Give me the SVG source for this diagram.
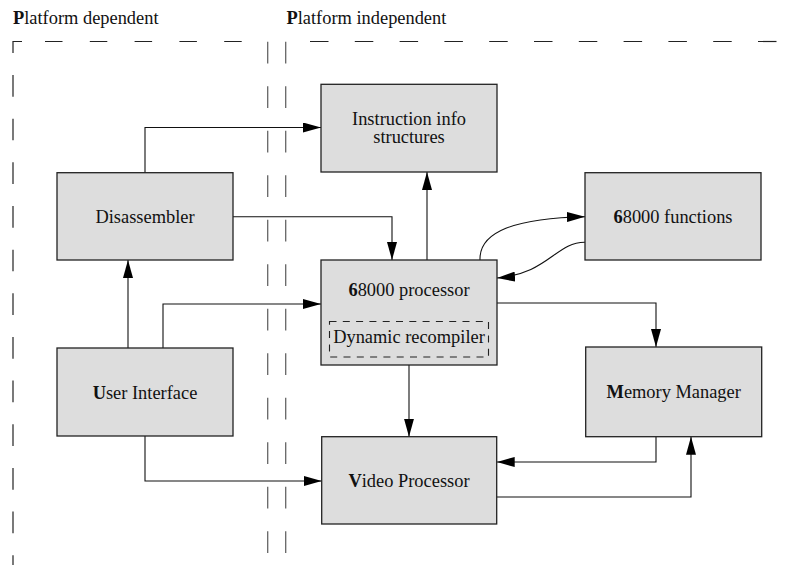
<svg xmlns="http://www.w3.org/2000/svg" width="794" height="565" viewBox="0 0 794 565">
<style>
.box{fill:#dddddd;stroke:#222;stroke-width:1.3}
.t{font-family:"Liberation Serif","Times New Roman",serif;font-size:18.4px;fill:#111;text-anchor:middle}
.lab{font-family:"Liberation Serif","Times New Roman",serif;font-size:18.4px;fill:#111}
.b{font-weight:bold}
.c{fill:none;stroke:#111;stroke-width:1.1}
.arr{marker-end:url(#ah)}
</style>
<defs>
<marker id="ah" markerUnits="userSpaceOnUse" viewBox="0 0 18 10" refX="18" refY="5" markerWidth="18" markerHeight="10" orient="auto">
<path d="M0,0 L18,5 L0,10 z" fill="#000"/>
</marker>
</defs>
<g id="regions">
<text class="lab" x="13" y="24"><tspan class="b">P</tspan>latform dependent</text>
<text class="lab" x="286.5" y="24"><tspan class="b">P</tspan>latform independent</text>
<path d="M13,53 V41.5 H22" fill="none" stroke="#222" stroke-width="1.2"/>
<line x1="13" y1="75" x2="13" y2="565" stroke="#222" stroke-width="1.2" stroke-dasharray="21.7 21.96"/>
<line x1="45" y1="41.5" x2="262" y2="41.5" stroke="#222" stroke-width="1.2" stroke-dasharray="17.5 27.3"/>
<line x1="310" y1="41.5" x2="794" y2="41.5" stroke="#222" stroke-width="1.2" stroke-dasharray="18.5 26.3"/>
<line x1="267.7" y1="41.7" x2="267.7" y2="565" stroke="#666" stroke-width="1.3" stroke-dasharray="21.7 22.8"/>
<line x1="285.7" y1="41.7" x2="285.7" y2="565" stroke="#666" stroke-width="1.3" stroke-dasharray="21.7 22.8"/>
</g>
<g id="connectors">
<path class="c arr" d="M145,172.7 V127.5 H321"/>
<path class="c arr" d="M233,216.7 H392 V260"/>
<path class="c arr" d="M427,260 V172"/>
<path class="c arr" d="M480,260 C479,232 515,218 585,216.7"/>
<path class="c arr" d="M585,242.3 C556,242 548,274 497,278"/>
<path class="c arr" d="M128,348 V260"/>
<path class="c arr" d="M163,348 V304 H321"/>
<path class="c arr" d="M497,303 H656 V347"/>
<path class="c arr" d="M409,365 V436.7"/>
<path class="c arr" d="M145,436 V481 H321.7"/>
<path class="c arr" d="M656,436.7 V462 H496.7"/>
<path class="c arr" d="M496.7,497 H691 V436.7"/>
</g>
<g id="instruction-info">
<rect class="box" x="321" y="84.3" width="176" height="87.7"/>
<text class="t" x="409" y="125">Instruction info</text>
<text class="t" x="409" y="143">structures</text>
</g>
<g id="disassembler">
<rect class="box" x="57" y="172.7" width="176" height="87.3"/>
<text class="t" x="145" y="222.7">Disassembler</text>
</g>
<g id="functions">
<rect class="box" x="585" y="172.7" width="176" height="87.3"/>
<text class="t" x="673" y="223"><tspan class="b">6</tspan>8000 functions</text>
</g>
<g id="processor">
<rect class="box" x="321" y="260" width="176" height="105"/>
<text class="t" x="409" y="296"><tspan class="b">6</tspan>8000 processor</text>
<rect x="329.5" y="321.5" width="159" height="35.5" fill="none" stroke="#222" stroke-width="1.1" stroke-dasharray="7 6.3"/>
<text class="t" x="409" y="343">Dynamic recompiler</text>
</g>
<g id="user-interface">
<rect class="box" x="57" y="348" width="176" height="88"/>
<text class="t" x="145" y="399"><tspan class="b">U</tspan>ser Interface</text>
</g>
<g id="memory-manager">
<rect class="box" x="585.7" y="347" width="176" height="89.7"/>
<text class="t" x="673.7" y="397.5"><tspan class="b">M</tspan>emory Manager</text>
</g>
<g id="video-processor">
<rect class="box" x="321.7" y="436.7" width="175" height="87.3"/>
<text class="t" x="409" y="487"><tspan class="b">V</tspan>ideo Processor</text>
</g>
</svg>
